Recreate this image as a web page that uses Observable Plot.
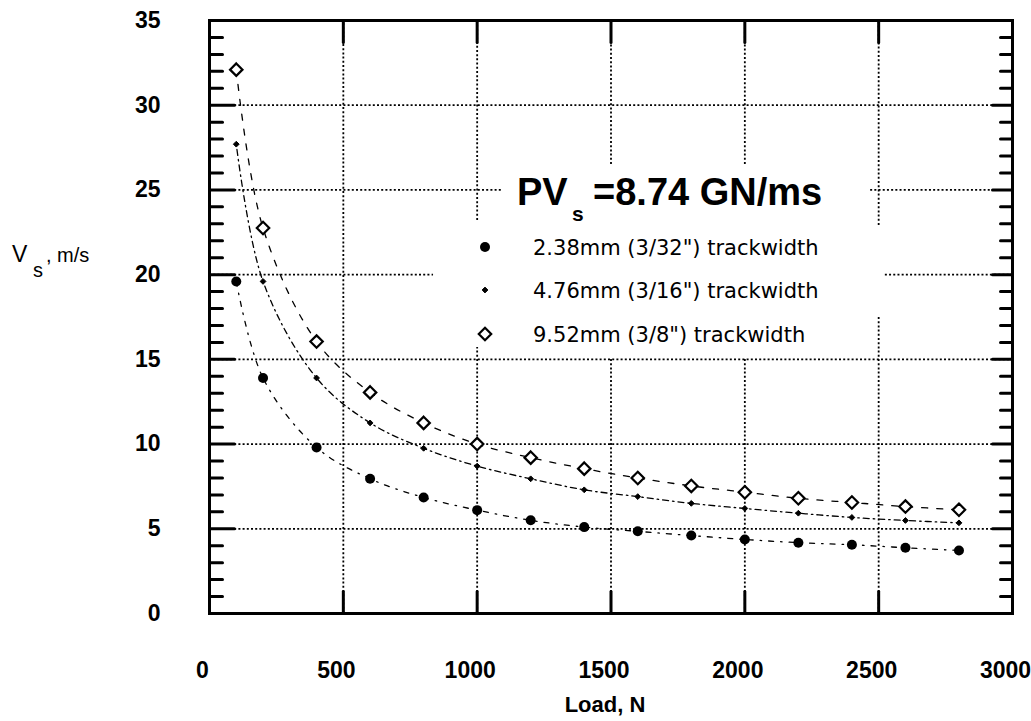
<!DOCTYPE html>
<html>
<head>
<meta charset="utf-8">
<script src="https://cdn.jsdelivr.net/npm/d3@7"></script>
<script src="https://cdn.jsdelivr.net/npm/@observablehq/plot@0.6"></script>
<style>
  html, body { margin: 0; padding: 0; background: #fff; }
  svg { display: block; }
</style>
</head>
<body>
<div id="chart"></div>
<script>
// ---- data ----
const loads = [100, 200, 400, 600, 800, 1000, 1200, 1400, 1600, 1800, 2000, 2200, 2400, 2600, 2800];
const v238 = [19.6, 13.9, 9.8, 7.95, 6.85, 6.1, 5.5, 5.1, 4.85, 4.6, 4.37, 4.18, 4.06, 3.88, 3.72];
const v476 = [27.7, 19.6, 13.9, 11.25, 9.75, 8.7, 7.95, 7.3, 6.9, 6.5, 6.2, 5.92, 5.67, 5.49, 5.35];
const v952 = [32.1, 22.75, 16.05, 13.05, 11.25, 10.0, 9.2, 8.55, 8.0, 7.53, 7.16, 6.8, 6.55, 6.31, 6.12];
const seriesNames = ["2.38mm (3/32\") trackwidth", "4.76mm (3/16\") trackwidth", "9.52mm (3/8\") trackwidth"];
const xTicks = [0, 500, 1000, 1500, 2000, 2500, 3000];
const xInnerTicks = [500, 1000, 1500, 2000, 2500];
const yTicks = [0, 5, 10, 15, 20, 25, 30, 35];
const yMinorTicks = d3.range(1, 35).filter(v => v % 5 !== 0);
const yMajorTicks = [5, 10, 15, 20, 25, 30];
// dotted grid segments (interrupted behind the annotation)
const gridH = [
  {y: 5, x1: 0, x2: 3000}, {y: 10, x1: 0, x2: 3000}, {y: 15, x1: 0, x2: 3000},
  {y: 20, x1: 0, x2: 837}, {y: 20, x1: 2525, x2: 3000},
  {y: 25, x1: 0, x2: 1095}, {y: 25, x1: 2470, x2: 3000},
  {y: 30, x1: 0, x2: 3000}
];
const gridV = [
  {x: 500, y1: 0, y2: 35},
  {x: 1000, y1: 0, y2: 15.7}, {x: 1000, y1: 23.2, y2: 35},
  {x: 1500, y1: 0, y2: 15}, {x: 1500, y1: 26.5, y2: 35},
  {x: 2000, y1: 0, y2: 15}, {x: 2000, y1: 26.5, y2: 35},
  {x: 2500, y1: 0, y2: 17.6}, {x: 2500, y1: 22.9, y2: 35}
];

const s1 = loads.map((x, i) => ({x, y: v238[i]}));
const s2 = loads.map((x, i) => ({x, y: v476[i]}));
const s3 = loads.map((x, i) => ({x, y: v952[i]}));

const tickShape = {draw(ctx, l) { ctx.moveTo(0, 0); ctx.lineTo(0, -l); }};
const dotted = {stroke: "#000", strokeWidth: 1.8, strokeDasharray: "2,2.2"};

const chart = Plot.plot({
  width: 1031,
  height: 721,
  marginLeft: 209,
  marginRight: 19,
  marginTop: 20,
  marginBottom: 108,
  style: {fontFamily: "Liberation Sans, Arial, sans-serif", background: "#fff", color: "#000"},
  x: {domain: [0, 3000]},
  y: {domain: [0, 35]},
  marks: [
    Plot.ruleY(gridH, {y: "y", x1: "x1", x2: "x2", ...dotted}),
    Plot.ruleX(gridV, {x: "x", y1: "y1", y2: "y2", ...dotted}),
    // frame ticks
    Plot.vector(yMinorTicks, {y: d => d, frameAnchor: "left", length: 13, rotate: 90, anchor: "start", shape: tickShape, strokeWidth: 3, stroke: "#000"}),
    Plot.vector(yMajorTicks, {y: d => d, frameAnchor: "left", length: 25, rotate: 90, anchor: "start", shape: tickShape, strokeWidth: 3, stroke: "#000"}),
    Plot.vector(yMinorTicks, {y: d => d, frameAnchor: "right", length: 12, rotate: -90, anchor: "start", shape: tickShape, strokeWidth: 3, stroke: "#000"}),
    Plot.vector(yMajorTicks, {y: d => d, frameAnchor: "right", length: 20, rotate: -90, anchor: "start", shape: tickShape, strokeWidth: 3, stroke: "#000"}),
    Plot.vector(xInnerTicks, {x: d => d, frameAnchor: "bottom", length: 22, rotate: 0, anchor: "start", shape: tickShape, strokeWidth: 3, stroke: "#000"}),
    Plot.vector(xInnerTicks, {x: d => d, frameAnchor: "top", length: 22, rotate: 180, anchor: "start", shape: tickShape, strokeWidth: 3, stroke: "#000"}),
    Plot.frame({stroke: "#000", strokeWidth: 3}),
    // tick labels
    Plot.axisY({ticks: yTicks, tickSize: 0, tickPadding: 49, label: null, fontSize: 23, fontWeight: "bold", tickFormat: d3.format("d")}),
    Plot.axisX({ticks: xTicks, tickSize: 0, tickPadding: 48, dx: -7, label: null, fontSize: 23, fontWeight: "bold", tickFormat: d3.format("d")}),
    Plot.text(["Load, N"], {frameAnchor: "bottom", dy: 98, dx: -6, fontSize: 22, fontWeight: "bold"}),
    // fitted curves
    Plot.line(s1, {x: "x", y: "y", curve: "catmull-rom", stroke: "#000", strokeWidth: 1.3, strokeDasharray: "5,7,1.5,7"}),
    Plot.line(s2, {x: "x", y: "y", curve: "catmull-rom", stroke: "#000", strokeWidth: 1.3, strokeDasharray: "1.5,4,6,4"}),
    Plot.line(s3, {x: "x", y: "y", curve: "catmull-rom", stroke: "#000", strokeWidth: 1.3, strokeDasharray: "6,9"}),
    // points
    Plot.dot(s1, {x: "x", y: "y", r: 5, fill: "#000", stroke: "none"}),
    Plot.dot(s2, {x: "x", y: "y", r: 2.6, symbol: "diamond2", fill: "#000", stroke: "#000", strokeWidth: 1}),
    Plot.dot(s3, {x: "x", y: "y", r: 5.6, symbol: "diamond2", fill: "#fff", stroke: "#000", strokeWidth: 2.2})
  ]
});

document.getElementById("chart").appendChild(chart);

// ---- annotations: Y label, PV title, legend ----
const svg = d3.select(chart);
const yl = svg.append("text").attr("text-anchor", "start").attr("font-family", "Liberation Sans, Arial, sans-serif").attr("fill", "#000");
yl.append("tspan").attr("x", 12).attr("y", 262).attr("font-size", 23).text("V");
yl.append("tspan").attr("x", 33).attr("y", 277).attr("font-size", 20).text("s");
yl.append("tspan").attr("x", 46).attr("y", 262).attr("font-size", 20).text(", m/s");

const tt = svg.append("text").attr("text-anchor", "start").attr("font-family", "Liberation Sans, Arial, sans-serif").attr("font-weight", "bold").attr("fill", "#000");
tt.append("tspan").attr("x", 517).attr("y", 205).attr("font-size", 38).text("PV");
tt.append("tspan").attr("x", 572).attr("y", 221).attr("font-size", 21).text("s");
tt.append("tspan").attr("x", 593).attr("y", 205).attr("font-size", 38).text("=8.74 GN/ms");

const legSymbols = [
  {type: d3.symbolCircle, size: Math.PI * 25, fill: "#000", stroke: "none", sw: 0},
  {type: d3.symbolDiamond2, size: Math.PI * 2.6 * 2.6, fill: "#000", stroke: "#000", sw: 1},
  {type: d3.symbolDiamond2, size: Math.PI * 5.6 * 5.6, fill: "#fff", stroke: "#000", sw: 2.2}
];
const legBase = [255, 298, 342];
seriesNames.forEach((name, i) => {
  const s = legSymbols[i];
  svg.append("path")
    .attr("transform", `translate(485,${legBase[i] - 8})`)
    .attr("d", d3.symbol(s.type, s.size)())
    .attr("fill", s.fill).attr("stroke", s.stroke).attr("stroke-width", s.sw);
  svg.append("text")
    .attr("text-anchor", "start")
    .attr("x", 533).attr("y", legBase[i])
    .attr("font-family", "DejaVu Sans, sans-serif").attr("font-size", 21).attr("fill", "#000")
    .text(name);
});
</script>
</body>
</html>
